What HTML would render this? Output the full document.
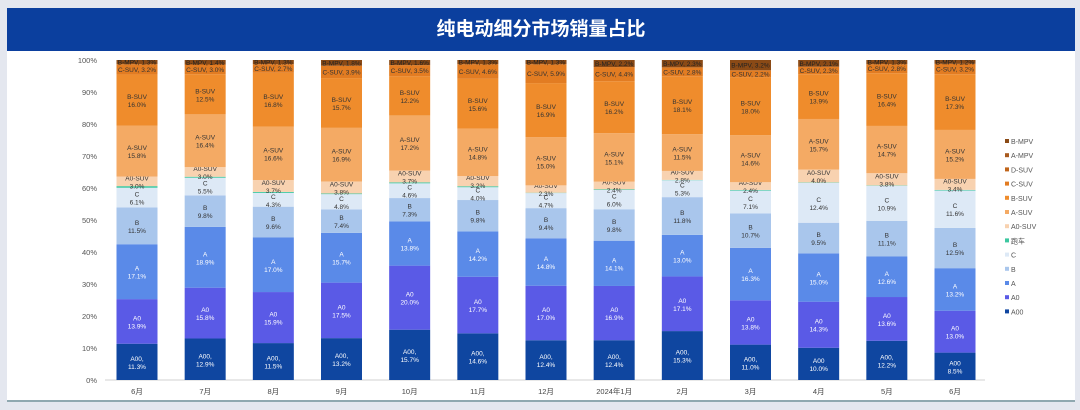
<!DOCTYPE html>
<html><head><meta charset="utf-8">
<style>
body{margin:0;width:1080px;height:410px;background:#e4e7ef;font-family:"Liberation Sans","Noto Sans CJK SC",sans-serif;overflow:hidden}
#panel{position:absolute;left:7px;top:8px;width:1068px;height:392px;background:#fff;border-bottom:2px solid #8fa8b0}
#title{position:absolute;left:7px;top:8px;width:1068px;height:43px;background:#0b3f9e;color:#fff;font-size:19px;font-weight:bold;text-align:center;line-height:43px;font-family:"Liberation Sans","Noto Sans CJK SC",sans-serif}
svg{position:absolute;left:0;top:0}
</style></head><body>
<div id="panel"></div>
<div id="title">纯电动细分市场销量占比</div>
<svg id="chart" width="1080" height="410"></svg>
<script>
const categories=["6月","7月","8月","9月","10月","11月","12月","2024年1月","2月","3月","4月","5月","6月"];
const seriesNames=["A00","A0","A","B","C","跑车","A0-SUV","A-SUV","B-SUV","C-SUV","D-SUV","A-MPV","B-MPV"];
const sA00=[11.3,12.9,11.5,13.2,15.7,14.6,12.4,12.4,15.3,11.0,10.0,12.2,8.5];
const sA0=[13.9,15.8,15.9,17.5,20.0,17.7,17.0,16.9,17.1,13.8,14.3,13.6,13.0];
const sA=[17.1,18.9,17.0,15.7,13.8,14.2,14.8,14.1,13.0,16.3,15.0,12.6,13.2];
const sB=[11.5,9.8,9.6,7.4,7.3,9.8,9.4,9.8,11.8,10.7,9.5,11.1,12.5];
const sC=[6.1,5.5,4.3,4.8,4.6,4.0,4.7,6.0,5.3,7.1,12.4,10.9,11.6];
const sSport=[0.5,0.3,0.3,0.2,0.3,0.3,0.1,0.2,0.1,0.2,0.1,0.1,0.2];
const sA0SUV=[3.0,3.0,3.7,3.8,3.7,3.2,2.3,2.4,2.8,2.4,4.0,3.8,3.4];
const sASUV=[15.8,16.4,16.6,16.9,17.2,14.8,15.0,15.1,11.5,14.6,15.7,14.7,15.2];
const sBSUV=[16.0,12.5,16.8,15.7,12.2,15.6,16.9,16.2,18.1,18.0,13.9,16.4,17.3];
const sCSUV=[3.2,3.0,2.7,3.9,3.5,4.6,5.9,4.4,2.8,2.2,2.3,2.8,3.2];
const sDSUV=[0,0,0,0,0,0,0,0,0,0,0,0,0];
const sAMPV=[0,0,0,0,0,0,0,0,0,0,0,0,0];
const sBMPV=[1.3,1.4,1.3,1.8,1.6,1.3,1.3,2.2,2.3,3.2,2.1,1.3,1.2];
const yTicks=[0,10,20,30,40,50,60,70,80,90,100];
const series=[sA00,sA0,sA,sB,sC,sSport,sA0SUV,sASUV,sBSUV,sCSUV,sDSUV,sAMPV,sBMPV];
const colors=["#0f46a0","#5a5ae6","#5a8ae8","#a9c6ec","#dde9f6","#3cc7a0","#f8d2b0","#f4aa64","#ef8c2c","#e27c22","#c0641a","#a85a1e","#8a4a16"];
const textCol=["#fff","#fff","#fff","#333","#333","#333","#333","#333","#333","#333","#333","#333","#222"];
const NS="http://www.w3.org/2000/svg";
const svg=document.getElementById('chart');
const y0=380,y1=60,xL=105,xR=985,bw=41;
const yS=v=>y0-(y0-y1)*v/100;
const xS=i=>137+i*(955-137)/(categories.length-1);
function mk(t,a){const e=document.createElementNS(NS,t);for(const k in a)e.setAttribute(k,a[k]);svg.appendChild(e);return e;}
const base=mk('line',{x1:xL,x2:xR,y1:y0,y2:y0,stroke:'#d0d0d0'});


yTicks.forEach(t=>{const e=mk('text',{x:97,y:yS(t)+3,'font-size':7.5,fill:'#555','text-anchor':'end'});e.textContent=t+'%';

});
categories.forEach((c,i)=>{
  let tot=0;series.forEach(s=>tot+=s[i]);
  let cum=0;const x=xS(i)-bw/2;
  series.forEach((s,k)=>{
    const v=s[i]/tot*100;if(v<=0)return;
    const ya=yS(cum),yb=yS(cum+v);cum+=v;
    const r=mk('rect',{x:x,y:yb,width:bw,height:ya-yb,fill:colors[k]});
    
    
    if(k===5||s[i]<1)return;
    const cx=xS(i),cy=(ya+yb)/2;
    const single=(k>=9);
    const lab=seriesNames[k]+(k===0&&i!==10&&i!==12?',':'');
    if(single){const e=mk('text',{x:cx,y:cy+2.5,'font-size':6.5,fill:textCol[k],'text-anchor':'middle'});e.textContent=seriesNames[k]+', '+s[i].toFixed(1)+'%';
      
      }
    else{const e=mk('text',{x:cx,y:cy-1,'font-size':6.5,fill:textCol[k],'text-anchor':'middle'});e.textContent=lab;
      
      
      const f=mk('text',{x:cx,y:cy+7,'font-size':6.5,fill:textCol[k],'text-anchor':'middle'});f.textContent=s[i].toFixed(1)+'%';
      
      }
  });
  const t=mk('text',{x:xS(i),y:394,'font-size':7.5,fill:'#444','text-anchor':'middle'});t.textContent=c;
  
  
});
for(let k=seriesNames.length-1;k>=0;k--){
  const j=seriesNames.length-1-k;const y=142+j*14.2;
  const r=mk('rect',{x:1005,y:y-3,width:4,height:4,fill:colors[k]});
  
  
  const t=mk('text',{x:1011,y:y+2,'font-size':7,fill:'#555'});t.textContent=seriesNames[k];
  
  
}
</script>
</body></html>
